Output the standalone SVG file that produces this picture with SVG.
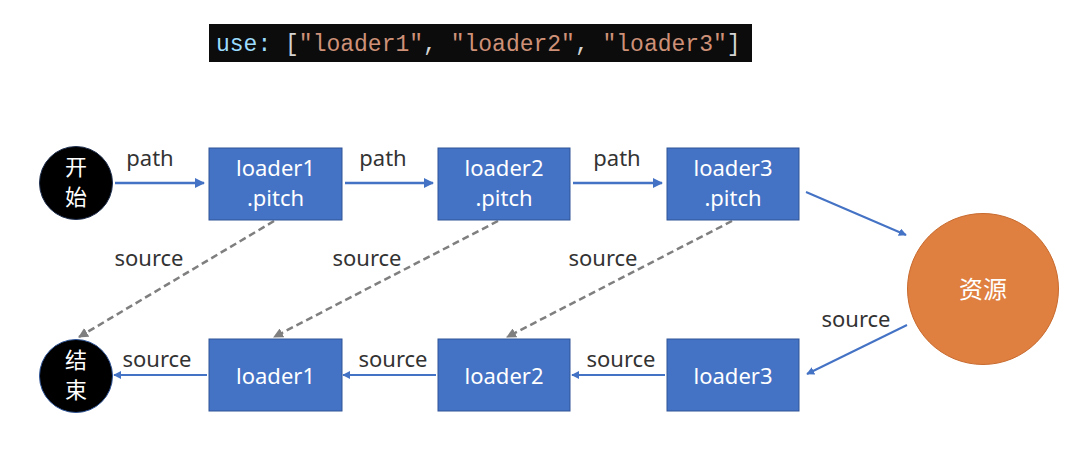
<svg xmlns="http://www.w3.org/2000/svg" width="1078" height="453" viewBox="0 0 1078 453">
<style>
.box{fill:#4472C4;stroke:#2F5597;stroke-width:1}
.bt{fill:#fff;font-family:"Noto Sans","Liberation Sans",sans-serif;font-size:22px;text-anchor:middle}
.lbl{fill:#333;font-family:"Noto Sans","Liberation Sans",sans-serif;font-size:22px;text-anchor:middle}
.cjk{fill:#fff;font-family:"Noto Sans CJK SC",sans-serif;font-size:22px;text-anchor:middle}
.flow{stroke:#4472C4;stroke-width:2.5;fill:none}
.thin{stroke:#4472C4;stroke-width:2;fill:none}
.dash{stroke:#7f7f7f;stroke-width:2.5;stroke-dasharray:7 4;fill:none}
.code{font-family:"Liberation Mono",monospace;font-size:23px}
</style>
<defs>
<marker id="ab" viewBox="0 0 10 10" refX="9" refY="5" markerWidth="4" markerHeight="4" orient="auto"><path d="M0,0 L10,5 L0,10 z" fill="#4472C4"/></marker>
<marker id="ag" viewBox="0 0 10 10" refX="9" refY="5" markerWidth="4" markerHeight="4" orient="auto"><path d="M0,0 L10,5 L0,10 z" fill="#7f7f7f"/></marker>
</defs>
<rect width="1078" height="453" fill="#fff"/>
<g id="code">
<rect x="209" y="24" width="543" height="38" fill="#0c0c0c"/>
<text class="code" x="216" y="51"><tspan fill="#9CDCFE">use:</tspan><tspan fill="#D4D4D4"> [</tspan><tspan fill="#CE9178">"loader1"</tspan><tspan fill="#D4D4D4">, </tspan><tspan fill="#CE9178">"loader2"</tspan><tspan fill="#D4D4D4">, </tspan><tspan fill="#CE9178">"loader3"</tspan><tspan fill="#D4D4D4">]</tspan></text>
</g>
<g id="connectors">
<line class="flow" x1="115" y1="183" x2="204" y2="183" marker-end="url(#ab)"/>
<line class="flow" x1="345" y1="183" x2="433" y2="183" marker-end="url(#ab)"/>
<line class="flow" x1="573" y1="183" x2="662" y2="183" marker-end="url(#ab)"/>
<line class="thin" x1="806" y1="192" x2="906" y2="235" marker-end="url(#ab)"/>
<line class="thin" x1="907" y1="325" x2="807" y2="374" marker-end="url(#ab)"/>
<line class="thin" x1="665" y1="375" x2="572" y2="375" marker-end="url(#ab)"/>
<line class="thin" x1="436" y1="375" x2="343" y2="375" marker-end="url(#ab)"/>
<line class="thin" x1="207" y1="375" x2="114" y2="375" marker-end="url(#ab)"/>
<line class="dash" x1="274" y1="221" x2="79" y2="337" marker-end="url(#ag)"/>
<line class="dash" x1="498" y1="221" x2="274" y2="337" marker-end="url(#ag)"/>
<line class="dash" x1="732" y1="221" x2="507" y2="337" marker-end="url(#ag)"/>
<text class="lbl" x="150" y="166">path</text>
<text class="lbl" x="383" y="166">path</text>
<text class="lbl" x="617" y="166">path</text>
<text class="lbl" x="149" y="266">source</text>
<text class="lbl" x="367" y="266">source</text>
<text class="lbl" x="603" y="266">source</text>
<text class="lbl" x="856" y="327">source</text>
<text class="lbl" x="157" y="367">source</text>
<text class="lbl" x="393" y="367">source</text>
<text class="lbl" x="621" y="367">source</text>
</g>
<g id="start"><circle cx="76" cy="183" r="36.5" fill="#000" stroke="#1f2f4f" stroke-width="1"/><text class="cjk" x="76" y="175">开</text><text class="cjk" x="76" y="205">始</text></g>
<g id="end"><circle cx="76" cy="376" r="36.5" fill="#000" stroke="#2F5597" stroke-width="1"/><text class="cjk" x="76" y="368">结</text><text class="cjk" x="76" y="398">束</text></g>
<g id="resource"><circle cx="983" cy="289" r="75.5" fill="#DF8041" stroke="#c86a2e" stroke-width="1"/><text class="cjk" x="983" y="298" style="font-size:24px">资源</text></g>
<g id="p1"><rect class="box" x="209" y="148" width="133" height="72"/><text class="bt" x="275.5" y="176">loader1</text><text class="bt" x="275.5" y="206">.pitch</text></g>
<g id="p2"><rect class="box" x="438" y="148" width="132" height="72"/><text class="bt" x="504" y="176">loader2</text><text class="bt" x="504" y="206">.pitch</text></g>
<g id="p3"><rect class="box" x="667" y="148" width="132" height="72"/><text class="bt" x="733" y="176">loader3</text><text class="bt" x="733" y="206">.pitch</text></g>
<g id="l1"><rect class="box" x="209" y="339" width="133" height="72"/><text class="bt" x="275.5" y="384">loader1</text></g>
<g id="l2"><rect class="box" x="438" y="339" width="132" height="72"/><text class="bt" x="504" y="384">loader2</text></g>
<g id="l3"><rect class="box" x="667" y="339" width="132" height="72"/><text class="bt" x="733" y="384">loader3</text></g>
</svg>
